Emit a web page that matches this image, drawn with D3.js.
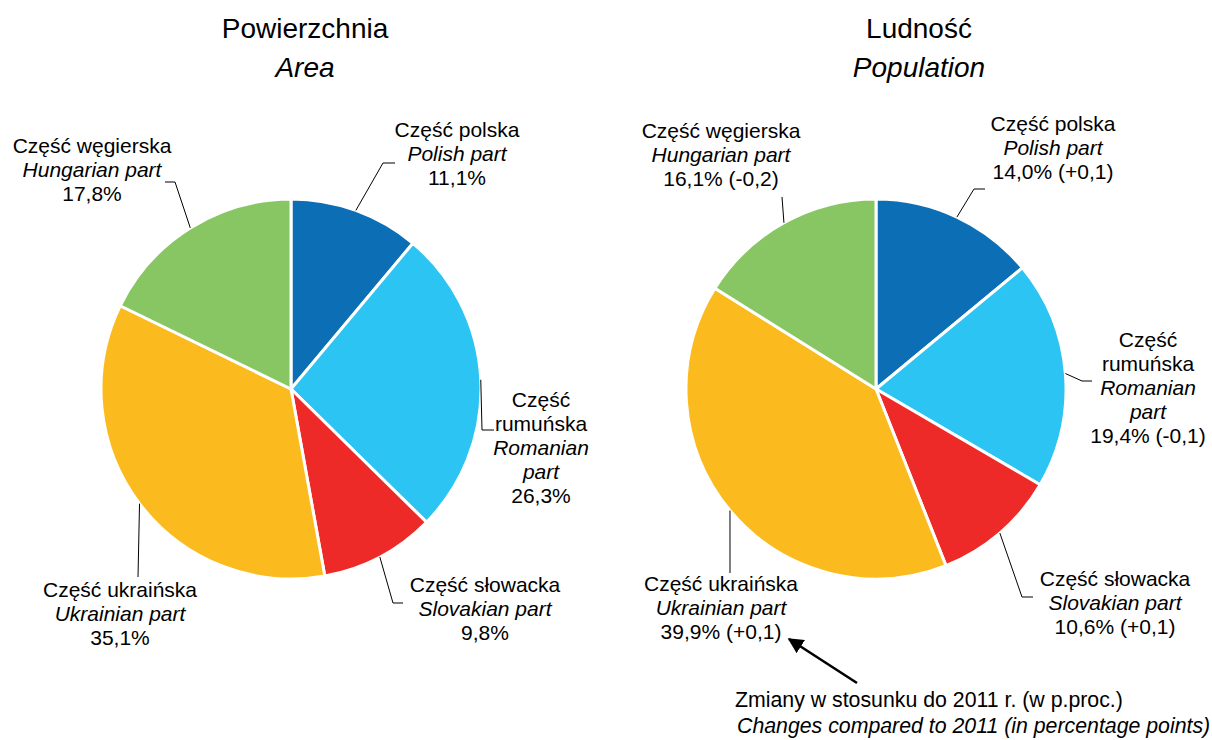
<!DOCTYPE html>
<html>
<head>
<meta charset="utf-8">
<script src="https://cdn.jsdelivr.net/npm/d3@7"></script>
<style>
  body { margin: 0; background: #fff; }
  svg text { font-family: "Liberation Sans", Arial, sans-serif; fill: #000; }
</style>
</head>
<body>
<div id="chart"></div>
<script>
const plLabels = ["Część polska", "Część rumuńska", "Część słowacka", "Część ukraińska", "Część węgierska"];
const enLabels = ["Polish part", "Romanian part", "Slovakian part", "Ukrainian part", "Hungarian part"];
const colors = ["#0C6FB6", "#2CC4F2", "#EE2A28", "#FBBB1F", "#88C663"];

const areaValues = [11.1, 26.3, 9.8, 35.1, 17.8];
const populationValues = [14.0, 19.4, 10.6, 39.9, 16.1];
const populationChange = [0.1, -0.1, 0.1, 0.1, -0.2];

const noteLines = ["Zmiany w stosunku do 2011 r. (w p.proc.)", "Changes compared to 2011 (in percentage points)"];

const width = 1212, height = 740;
const lineH = 24;

const fmt = v => d3.format(".1f")(v).replace(".", ",");
const fmtChange = v => "(" + (v >= 0 ? "+" : "-") + fmt(Math.abs(v)) + ")";

// label placement for each pie (text centre, first baseline, leader bends)
const pies = [
  {
    title: "Powierzchnia", subtitle: "Area", tx: 305,
    cx: 291, cy: 389, r: 190,
    values: areaValues, changes: null,
    labels: [
      { x: 457, y: 137, wrap: false, bend: [[383, 163], [395, 163]] },
      { x: 541, y: 407, wrap: true, bend: [[482, 430], [494, 430]] },
      { x: 485, y: 592, wrap: false, bend: [[393, 603], [403, 603]] },
      { x: 120, y: 597, wrap: false, bend: [[138, 577]] },
      { x: 92, y: 153, wrap: false, bend: [[175, 182], [165, 182]] }
    ]
  },
  {
    title: "Ludność", subtitle: "Population", tx: 919,
    cx: 876, cy: 389, r: 190,
    values: populationValues, changes: populationChange,
    labels: [
      { x: 1053, y: 131, wrap: false, bend: [[974, 189], [985, 189]] },
      { x: 1148, y: 347, wrap: true, bend: [[1082, 381], [1092, 381]] },
      { x: 1115, y: 586, wrap: false, bend: [[1022, 597], [1033, 597]] },
      { x: 721, y: 591, wrap: false, bend: [[730, 573]] },
      { x: 721, y: 138, wrap: false, bend: [[782, 197]] }
    ]
  }
];

const svg = d3.select("#chart").append("svg")
  .attr("width", width)
  .attr("height", height);

const pie = d3.pie().sort(null).value(d => d);

pies.forEach(p => {
  const g = svg.append("g");

  g.append("text")
    .attr("x", p.tx).attr("y", 38)
    .attr("text-anchor", "middle")
    .style("font-size", "28px")
    .text(p.title);
  g.append("text")
    .attr("x", p.tx).attr("y", 77)
    .attr("text-anchor", "middle")
    .style("font-size", "28px")
    .style("font-style", "italic")
    .text(p.subtitle);

  const arc = d3.arc().innerRadius(0).outerRadius(p.r);
  const arcs = pie(p.values);

  g.append("g")
    .attr("transform", `translate(${p.cx},${p.cy})`)
    .selectAll("path")
    .data(arcs)
    .enter().append("path")
    .attr("d", arc)
    .attr("fill", (d, i) => colors[i])
    .attr("stroke", "#fff")
    .attr("stroke-width", 3)
    .attr("stroke-linejoin", "round");

  arcs.forEach((d, i) => {
    const lay = p.labels[i];
    const mid = (d.startAngle + d.endAngle) / 2;
    const start = [p.cx + p.r * Math.sin(mid), p.cy - p.r * Math.cos(mid)];
    const pts = [start].concat(lay.bend);

    g.append("path")
      .attr("d", d3.line()(pts))
      .attr("fill", "none")
      .attr("stroke", "#000")
      .attr("stroke-width", 1);

    let valueText = fmt(p.values[i]) + "%";
    if (p.changes) valueText += " " + fmtChange(p.changes[i]);

    let lines;
    if (lay.wrap) {
      lines = plLabels[i].split(" ").map(t => ({ t, it: false }))
        .concat(enLabels[i].split(" ").map(t => ({ t, it: true })));
    } else {
      lines = [{ t: plLabels[i], it: false }, { t: enLabels[i], it: true }];
    }
    lines.push({ t: valueText, it: false });

    const txt = g.append("text")
      .attr("text-anchor", "middle")
      .style("font-size", "21px");
    lines.forEach((l, k) => {
      txt.append("tspan")
        .attr("x", lay.x)
        .attr("y", lay.y + k * lineH)
        .style("font-style", l.it ? "italic" : "normal")
        .text(l.t);
    });
  });
});

// note with arrow
svg.append("defs").append("marker")
  .attr("id", "arrowhead")
  .attr("viewBox", "0 -5 10 10")
  .attr("refX", 9)
  .attr("refY", 0)
  .attr("markerWidth", 6)
  .attr("markerHeight", 6)
  .attr("orient", "auto")
  .append("path")
  .attr("d", "M0,-5L10,0L0,5Z")
  .attr("fill", "#000");

svg.append("line")
  .attr("x1", 857).attr("y1", 683)
  .attr("x2", 789).attr("y2", 639)
  .attr("stroke", "#000")
  .attr("stroke-width", 2.6)
  .attr("marker-end", "url(#arrowhead)");

svg.selectAll("text.note")
  .data(noteLines)
  .enter().append("text")
  .attr("class", "note")
  .attr("x", (d, i) => 735 + i * 2)
  .attr("y", (d, i) => 707 + i * 26)
  .style("font-size", "21.3px")
  .style("font-style", (d, i) => i ? "italic" : "normal")
  .text(d => d);
</script>
</body>
</html>
